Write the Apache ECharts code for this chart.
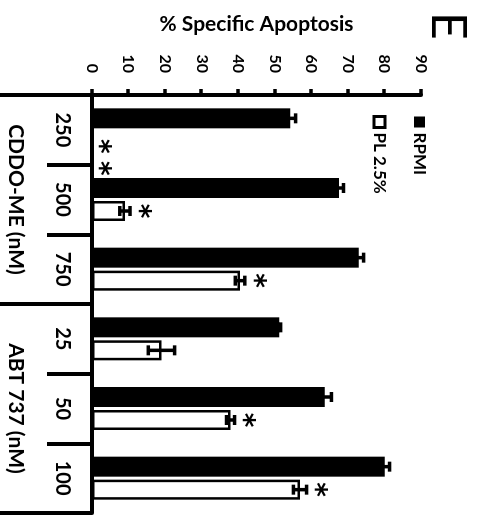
<!DOCTYPE html>
<html>
<head>
<meta charset="utf-8">
<script src="https://cdn.jsdelivr.net/npm/echarts@6/dist/echarts.min.js"></script>
<style>
  html, body { margin: 0; padding: 0; background: #fff; overflow: hidden; }
  #frame { position: absolute; left: 0; top: 0; width: 477px; height: 515px; overflow: hidden; background: #fff; }
  /* the panel is laid out upright (515 x 477) and turned a quarter turn clockwise */
  #chart { position: absolute; left: 0; top: 0; width: 515px; height: 477px;
           transform-origin: 0 0; transform: translate(477px, 0) rotate(90deg); }
</style>
</head>
<body>
<div id="frame"><div id="chart"></div></div>
<script>
// Doses (nM), grouped by drug
const doses = ['250', '500', '750', '25', '50', '100'];
const groups = ['CDDO-ME (nM)', 'ABT 737 (nM)'];

// % specific apoptosis, mean and error
const rpmi    = [54.2, 67.6, 73.0, 51.2, 63.7, 80.1];
const rpmiErr = [1.5, 1.2, 1.3, 0.4, 1.8, 1.3];
const pl      = [0, 9.0, 40.5, 19.0, 37.9, 56.9];
const plErr   = [0, 1.4, 1.3, 3.6, 1.1, 1.8];
const signif  = ['**', '*', '*', '', '*', '*'];

const seriesNames = ['RPMI', 'PL 2.5%'];
const yTicks = [0, 10, 20, 30, 40, 50, 60, 70, 80, 90];

const FONT = 'Lato, "Open Sans", "DejaVu Sans", sans-serif';
const MARK_FONT = 'bold 28px "DejaVu Sans", sans-serif';
const BAR_W = 20;
const BAR_GAP = 3;
const HALF_STEP = (BAR_W + BAR_GAP) / 2;

const chart = echarts.init(document.getElementById('chart'), null, { renderer: 'canvas' });

// error whiskers (and significance marks) drawn at each bar's centre
function errorRenderer(offsetSign, withMarks) {
  return function (params, api) {
    const i = api.value(0);
    const v = api.value(1);
    const e = api.value(2);
    const base = api.coord([i, v]);
    const cx = base[0] + offsetSign * HALF_STEP;
    const children = [];
    if (e > 0) {
      const hi = api.coord([i, v + e])[1];
      const lo = api.coord([i, v - e])[1];
      const cap = 5;
      const st = { stroke: '#000', lineWidth: 3.5 };
      children.push({ type: 'line', shape: { x1: cx, y1: lo, x2: cx, y2: hi }, style: st });
      children.push({ type: 'line', shape: { x1: cx - cap, y1: hi, x2: cx + cap, y2: hi }, style: st });
      children.push({ type: 'line', shape: { x1: cx - cap, y1: lo, x2: cx + cap, y2: lo }, style: st });
    }
    if (withMarks) {
      const mark = signif[i] || '';
      const top = api.coord([i, v + e])[1];
      for (let k = 0; k < mark.length; k++) {
        const dx = mark.length > 1 ? 5 + k * 22 : 0;
        children.push({
          type: 'text',
          x: cx + dx,
          y: top - (e > 0 ? 8 : 6),
          style: {
            text: '*', fill: '#000', font: MARK_FONT,
            align: 'center', verticalAlign: 'middle'
          }
        });
      }
    }
    return { type: 'group', children: children };
  };
}

const option = {
  animation: false,
  backgroundColor: '#fff',
  textStyle: { fontFamily: FONT, color: '#000' },
  grid: { left: 95, right: 2, top: 56, bottom: 92, containLabel: false },
  legend: {
    orient: 'vertical',
    left: 110,
    top: 44,
    itemGap: 23,
    itemWidth: 11,
    itemHeight: 11,
    textStyle: { fontSize: 17, fontWeight: 'bold', color: '#000', fontFamily: FONT },
    data: [
      { name: 'RPMI', icon: 'rect', itemStyle: { color: '#000' } },
      { name: 'PL 2.5%', icon: 'rect', itemStyle: { color: '#fff', borderColor: '#000', borderWidth: 3 } }
    ]
  },
  graphic: [{
    type: 'text', left: 12, top: 6,
    style: { text: 'E', font: '48px ' + FONT, fill: '#000' }
  }],
  xAxis: [{
    type: 'category',
    data: doses,
    position: 'bottom',
    axisLine: { lineStyle: { color: '#000', width: 4 } },
    axisTick: { show: true, length: 45, interval: 0, lineStyle: { color: '#000', width: 4 } },
    axisLabel: { interval: 0, margin: 20, fontSize: 20, fontWeight: 'bold', color: '#000', fontFamily: FONT }
  }, {
    type: 'category',
    data: groups,
    position: 'bottom',
    axisLine: { show: false },
    axisTick: { show: true, length: 92, interval: 0, lineStyle: { color: '#000', width: 4 } },
    axisLabel: { interval: 0, margin: 66, fontSize: 21, fontWeight: 'bold', color: '#000', fontFamily: FONT }
  }],
  yAxis: {
    type: 'value',
    min: yTicks[0],
    max: yTicks[yTicks.length - 1],
    interval: yTicks[1] - yTicks[0],
    name: '% Specific Apoptosis',
    nameLocation: 'middle',
    nameRotate: 90,
    nameGap: 60,
    nameTextStyle: { fontSize: 21, fontWeight: 'bold', color: '#000', fontFamily: FONT },
    axisLine: { show: true, lineStyle: { color: '#000', width: 4 } },
    axisTick: { show: true, length: 6, lineStyle: { color: '#000', width: 3.5 } },
    axisLabel: { margin: 22, fontSize: 16, fontWeight: 'bold', color: '#000', fontFamily: FONT },
    splitLine: { show: false }
  },
  series: [{
    name: seriesNames[0],
    type: 'bar',
    xAxisIndex: 0,
    barWidth: BAR_W,
    barGap: (BAR_GAP / BAR_W * 100) + '%',
    itemStyle: { color: '#000' },
    data: rpmi
  }, {
    name: seriesNames[1],
    type: 'bar',
    xAxisIndex: 0,
    barWidth: BAR_W,
    itemStyle: { color: '#fff', borderColor: '#000', borderWidth: 2.5 },
    data: pl
  }, {
    name: 'rpmi-err',
    type: 'custom',
    xAxisIndex: 0,
    z: 5,
    renderItem: errorRenderer(-1, false),
    encode: { x: 0, y: 1 },
    data: rpmi.map((v, i) => [i, v, rpmiErr[i]])
  }, {
    name: 'pl-err',
    type: 'custom',
    xAxisIndex: 0,
    z: 5,
    renderItem: errorRenderer(1, true),
    encode: { x: 0, y: 1 },
    data: pl.map((v, i) => [i, v, plErr[i]])
  }]
};

chart.setOption(option);
</script>
</body>
</html>
